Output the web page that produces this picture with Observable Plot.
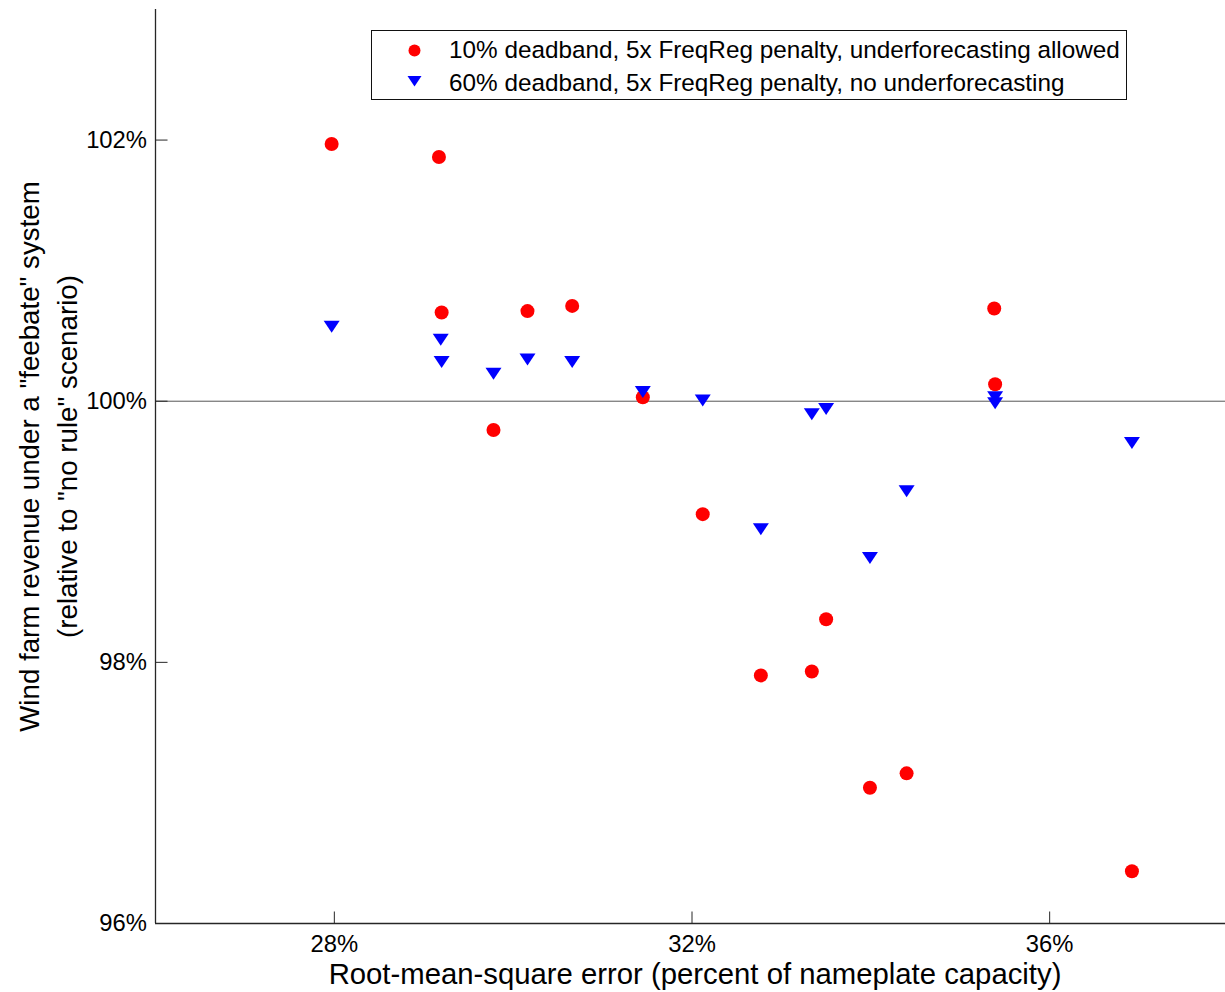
<!DOCTYPE html>
<html>
<head>
<meta charset="utf-8">
<script src="https://cdn.jsdelivr.net/npm/d3@7"></script>
<script src="https://cdn.jsdelivr.net/npm/@observablehq/plot@0.6"></script>
<style>
html, body { margin: 0; padding: 0; background: #fff; overflow: hidden; }
#wrap { position: relative; width: 1225px; height: 992px; }
#legend { position: absolute; left: 371px; top: 30px; width: 756px; height: 70px; border: 1.5px solid #111; box-sizing: border-box; background: #fff; font-family: "Liberation Sans", Arial, sans-serif; font-size: 24.3px; color: #000; }
#legend .mk { position: absolute; }
#legend .tx { position: absolute; line-height: 24px; white-space: nowrap; }
</style>
</head>
<body>
<div id="wrap"></div>
<script>
// ---- data ----
const redX  = [27.97, 29.17, 29.20, 29.78, 30.16, 30.66, 31.45, 32.12, 32.77, 33.34, 33.50, 33.99, 34.40, 35.38, 35.39, 36.92];
const redY  = [101.97, 101.87, 100.68, 99.78, 100.69, 100.73, 100.03, 99.135, 97.90, 97.93, 98.33, 97.04, 97.15, 100.71, 100.13, 96.40];
const blueX = [27.97, 29.19, 29.20, 29.78, 30.16, 30.66, 31.45, 32.12, 32.77, 33.34, 33.50, 33.99, 34.40, 35.39, 35.39, 36.92];
const blueY = [100.57, 100.47, 100.30, 100.21, 100.32, 100.30, 100.07, 100.005, 99.02, 99.90, 99.94, 98.80, 99.31, 100.03, 99.985, 99.68];
const xTicks = [28, 32, 36];
const yTicks = [96, 98, 100, 102];
const redLabel  = "10% deadband, 5x FreqReg penalty, underforecasting allowed";
const blueLabel = "60% deadband, 5x FreqReg penalty, no underforecasting";
const xLabel = "Root-mean-square error (percent of nameplate capacity)";
const yLabel = "Wind farm revenue under a \"feebate\" system\n(relative to \"no rule\" scenario)";

const red  = redX.map((x, i) => ({x, y: redY[i]}));
const blue = blueX.map((x, i) => ({x, y: blueY[i]}));

// downward-pointing triangle, wider than tall (MATLAB 'v' marker)
const triDown = {
  draw(ctx, size) {
    const r = Math.sqrt(size / Math.PI);
    ctx.moveTo(-r, -0.75 * r);
    ctx.lineTo(r, -0.75 * r);
    ctx.lineTo(0, 0.75 * r);
    ctx.closePath();
  }
};

const axisColor = "#262626";
const font = '"Liberation Sans", Arial, sans-serif';

const chart = Plot.plot({
  width: 1225,
  height: 992,
  marginLeft: 155,
  marginRight: -3,
  marginTop: 9,
  marginBottom: 69,
  style: {fontFamily: font, fontSize: "23.5px", color: "#000", background: "#fff"},
  x: {domain: [26, 38]},
  y: {domain: [96, 103]},
  marks: [
    Plot.ruleY([100], {stroke: "#555", strokeWidth: 1}),
    Plot.axisX(xTicks, {tickSize: 0, tickPadding: 12, tickFormat: d => d + "%", label: null, fontSize: 23.8, fill: "#000"}),
    Plot.axisY(yTicks, {tickSize: 0, tickPadding: 8.5, tickFormat: d => d + "%", label: null, fontSize: 23.8, fill: "#000"}),
    Plot.ruleY(yTicks, {x1: 26, x2: 26.14, stroke: axisColor, strokeWidth: 1}),
    Plot.ruleX(xTicks, {y1: 96, y2: 96.088, stroke: axisColor, strokeWidth: 1}),
    Plot.ruleX([26], {stroke: axisColor, strokeWidth: 1.3}),
    Plot.ruleY([96], {stroke: axisColor, strokeWidth: 1.3}),
    Plot.dot(red, {x: "x", y: "y", r: 7, fill: "#ff0000"}),
    Plot.dot(blue, {x: "x", y: "y", r: 8, symbol: triDown, fill: "#0000ff"}),
    Plot.text([xLabel], {text: d => d, frameAnchor: "bottom", lineAnchor: "middle", textAnchor: "middle", dx: 3, dy: 51, fontSize: 29.3, fill: "#000"}),
    Plot.text([yLabel], {text: d => d, frameAnchor: "left", rotate: -90, textAnchor: "middle", lineAnchor: "middle", lineHeight: 1.37, dx: -110, dy: -10, fontSize: 27.7, fill: "#000"})
  ]
});

const wrap = document.getElementById("wrap");
wrap.appendChild(chart);

// legend overlay (inside the axes, as in the reference)
const legend = document.createElement("div");
legend.id = "legend";
legend.innerHTML = `
  <svg class="mk" style="left:35.5px;top:12.5px" width="13" height="13"><circle cx="6.5" cy="6.5" r="6" fill="#ff0000"/></svg>
  <div class="tx" style="left:77px;top:7px"></div>
  <svg class="mk" style="left:34.5px;top:44px" width="15" height="12"><path d="M0.5,1 L14.5,1 L7.5,11.5 Z" fill="#0000ff"/></svg>
  <div class="tx" style="left:77px;top:40px"></div>`;
const txs = legend.querySelectorAll(".tx");
txs[0].textContent = redLabel;
txs[1].textContent = blueLabel;
wrap.appendChild(legend);
</script>
</body>
</html>
